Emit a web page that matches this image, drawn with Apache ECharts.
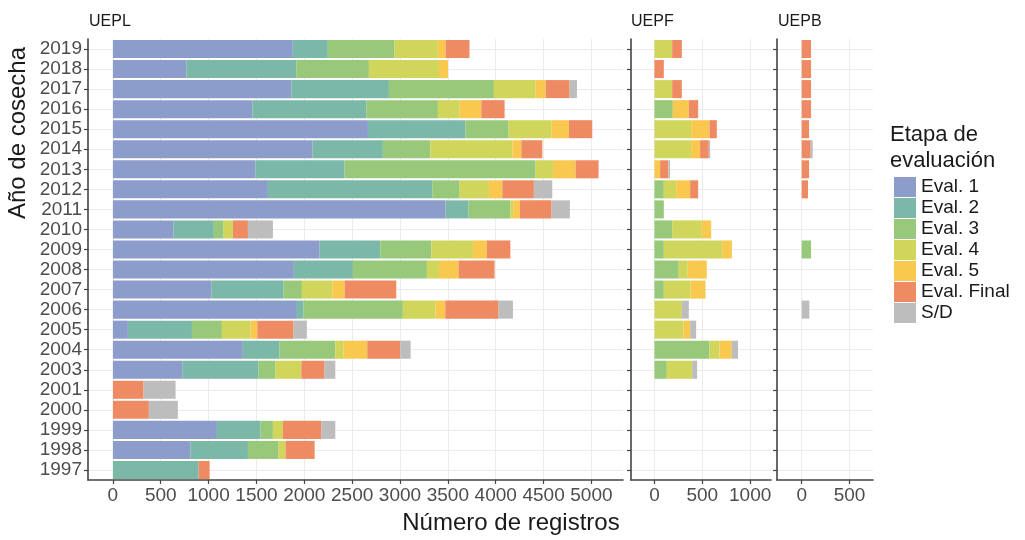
<!DOCTYPE html>
<html>
<head>
<meta charset="utf-8">
<script src="https://cdn.jsdelivr.net/npm/echarts@6/dist/echarts.min.js"></script>
<style>
  html, body { margin: 0; padding: 0; background: #ffffff; }
  #chart { width: 1025px; height: 540px; }
</style>
</head>
<body>
<div id="chart"></div>
<script>
// Harvest years (top to bottom)
const years = ['2019','2018','2017','2016','2015','2014','2013','2012','2011','2010',
               '2009','2008','2007','2006','2005','2004','2003','2001','2000','1999','1998','1997'];

const stages = ['Eval. 1','Eval. 2','Eval. 3','Eval. 4','Eval. 5','Eval. Final','S/D'];
const stageColors = ['#8c9dcb','#7bb8a8','#98c97a','#cfd65b','#f8c94e','#ee8b62','#bdbdbd'];

const panels = ['UEPL','UEPF','UEPB'];

// UEPL records per stage, one value per year
const ueplEval1 = [1880, 767,1864,1457,2665,2084,1488,1620,3477, 634,2160,1891,1028,1923, 157,1358, 725,   0,   0,1087, 809,   0];
const ueplEval2 = [ 366,1149,1020,1191,1020, 737, 933,1717, 240, 421, 634, 617, 756,  70, 669, 384, 797,   0,   0, 456, 602, 896];
const ueplEval3 = [ 697, 759,1097, 748, 450, 496,1996, 286, 436, 102, 533, 773, 191,1037, 313, 582, 178,   0,   0, 129, 320,   0];
const ueplEval4 = [ 452, 732, 436, 227, 446, 857, 181, 306,  30,  97, 435, 126, 317, 342, 300,  87, 269,   0,   0, 104,  74,   0];
const ueplEval5 = [  81,  94, 105, 227, 184,  94, 237, 140,  70,   0, 146, 205, 129, 101,  70, 247,   0,   0,   0,   0,   0,   0];
const ueplFinal = [ 250,   0, 250, 243, 244, 219, 240, 330, 331, 157, 245, 376, 540, 557, 379, 345, 243, 321, 376, 401, 303, 115];
const ueplSD    = [   0,   0,  77,   0,   0,   0,   0, 192, 191, 261,   0,   0,   0, 150, 139, 108, 112, 334, 303, 147,   0,   0];

// UEPF records per stage
const uepfEval1 = [   0,   0,   0,   0,   0,   0,   0,   0,   0,   0,   0,   0,   0,   0,   0,   0,   0,   0,   0,   0,   0,   0];
const uepfEval2 = [   0,   0,   0,   0,   0,   0,   0,   0,   0,   0,   0,   0,   0,   0,   0,   0,   0,   0,   0,   0,   0,   0];
const uepfEval3 = [   0,   0,   0, 192,   0,   0,   0,  98,  98, 185,  98, 254,  98,   0,   0, 575, 129,   0,   0,   0,   0,   0];
const uepfEval4 = [ 185,   0, 185,   0, 383, 383,   0, 129,   0, 310, 610,  94, 279, 286, 303, 104, 265,   0,   0,   0,   0,   0];
const uepfEval5 = [   0,   0,   0, 167, 192,  94,  59, 146,   0,  98, 101, 199, 157,   0,  70, 129,   0,   0,   0,   0,   0,   0];
const uepfFinal = [ 101,  98, 101,  98,  77,  91,  87,  84,   0,   0,   0,   0,   0,   0,   0,   0,   0,   0,   0,   0,   0,   0];
const uepfSD    = [   0,   0,   0,   0,   0,  14,  17,   0,   0,   0,   0,   0,   0,  73,  63,  66,  52,   0,   0,   0,   0,   0];

// UEPB records per stage
const uepbEval1 = [   0,   0,   0,   0,   0,   0,   0,   0,   0,   0,   0,   0,   0,   0,   0,   0,   0,   0,   0,   0,   0,   0];
const uepbEval2 = [   0,   0,   0,   0,   0,   0,   0,   0,   0,   0,   0,   0,   0,   0,   0,   0,   0,   0,   0,   0,   0,   0];
const uepbEval3 = [   0,   0,   0,   0,   0,   0,   0,   0,   0,   0,  98,   0,   0,   0,   0,   0,   0,   0,   0,   0,   0,   0];
const uepbEval4 = [   0,   0,   0,   0,   0,   0,   0,   0,   0,   0,   0,   0,   0,   0,   0,   0,   0,   0,   0,   0,   0,   0];
const uepbEval5 = [   0,   0,   0,   0,   0,   0,   0,   0,   0,   0,   0,   0,   0,   0,   0,   0,   0,   0,   0,   0,   0,   0];
const uepbFinal = [  98,  98,  98,  98,  77,  94,  77,  66,   0,   0,   0,   0,   0,   0,   0,   0,   0,   0,   0,   0,   0,   0];
const uepbSD    = [   0,   0,   0,   0,   0,  21,   0,   0,   0,   0,   0,   0,   0,  80,   0,   0,   0,   0,   0,   0,   0,   0];

// Tick values on each panel's x axis
const ueplTicks = [0,500,1000,1500,2000,2500,3000,3500,4000,4500,5000];
const uepfTicks = [0,500,1000];
const uepbTicks = [0,500];

const panelData = [
  [ueplEval1, ueplEval2, ueplEval3, ueplEval4, ueplEval5, ueplFinal, ueplSD],
  [uepfEval1, uepfEval2, uepfEval3, uepfEval4, uepfEval5, uepfFinal, uepfSD],
  [uepbEval1, uepbEval2, uepbEval3, uepbEval4, uepbEval5, uepbFinal, uepbSD]
];
const panelTicks = [ueplTicks, uepfTicks, uepbTicks];

// Panel geometry and x ranges (free x scale, width proportional to range)
const layout = [
  { left: 88,  width: 535, min: -260, max: 5330 },
  { left: 631, width: 140, min: -245, max: 1218 },
  { left: 777, width: 96,  min: -258, max: 745 }
];
const gridTop = 39, gridHeight = 441;

const FONT = '"Liberation Sans", Arial, Helvetica, sans-serif';
const axisColor = '#444444';
const tickText = '#4d4d4d';
const gridColor = '#ebebeb';

const grids = [], xAxes = [], yAxes = [], series = [];
layout.forEach((g, p) => {
  grids.push({ left: g.left, top: gridTop, width: g.width, height: gridHeight, containLabel: false });
  xAxes.push({
    type: 'value', gridIndex: p, min: g.min, max: g.max,
    axisLine: { show: true, lineStyle: { color: axisColor, width: 1.6 } },
    axisTick: { show: true, length: 4, customValues: panelTicks[p], lineStyle: { color: axisColor, width: 1.2 } },
    axisLabel: { customValues: panelTicks[p], formatter: v => String(v),
                 fontSize: 19, color: tickText, fontFamily: FONT, margin: 6 },
    splitLine: { show: true, lineStyle: { color: gridColor, width: 1 } }
  });
  yAxes.push({
    type: 'category', gridIndex: p, data: years, inverse: true,
    axisLine: { show: true, onZero: false, lineStyle: { color: axisColor, width: 1.6 } },
    axisTick: { show: true, alignWithLabel: true, interval: 0, length: 4, lineStyle: { color: axisColor, width: 1.2 } },
    axisLabel: { show: p === 0, interval: 0, fontSize: 19, color: tickText, fontFamily: FONT, margin: 6 },
    splitLine: { show: true, alignWithLabel: true, interval: 0, lineStyle: { color: gridColor, width: 1 } }
  });
  stages.forEach((s, i) => {
    series.push({
      type: 'bar', name: s, xAxisIndex: p, yAxisIndex: p, stack: panels[p],
      data: panelData[p][i], barCategoryGap: '10%',
      itemStyle: { color: stageColors[i] },
      emphasis: { disabled: true }, silent: true
    });
  });
});

const chart = echarts.init(document.getElementById('chart'), null, { renderer: 'canvas' });
chart.setOption({
  backgroundColor: '#ffffff',
  animation: false,
  grid: grids,
  xAxis: xAxes,
  yAxis: yAxes,
  series: series,
  legend: {
    data: stages, orient: 'vertical', left: 894, top: 177,
    itemWidth: 22, itemHeight: 20, itemGap: 1, icon: 'rect', padding: 0,
    selectedMode: false,
    textStyle: { fontSize: 19, color: '#1a1a1a', fontFamily: FONT }
  },
  graphic: [
    { type: 'text', left: 89, top: 14, style: { text: 'UEPL', font: '16px ' + FONT, fill: '#1a1a1a' } },
    { type: 'text', left: 631, top: 14, style: { text: 'UEPF', font: '16px ' + FONT, fill: '#1a1a1a' } },
    { type: 'text', left: 778, top: 14, style: { text: 'UEPB', font: '16px ' + FONT, fill: '#1a1a1a' } },
    { type: 'text', x: 18, y: 133, rotation: Math.PI / 2,
      style: { text: 'Año de cosecha', font: '24px ' + FONT, fill: '#1a1a1a', align: 'center', verticalAlign: 'middle' } },
    { type: 'text', x: 511, y: 523,
      style: { text: 'Número de registros', font: '24px ' + FONT, fill: '#1a1a1a', align: 'center', verticalAlign: 'middle' } },
    { type: 'text', left: 890, top: 122,
      style: { text: 'Etapa de\nevaluación', font: '22px ' + FONT, lineHeight: 26, fill: '#1a1a1a' } }
  ]
});
</script>
</body>
</html>
